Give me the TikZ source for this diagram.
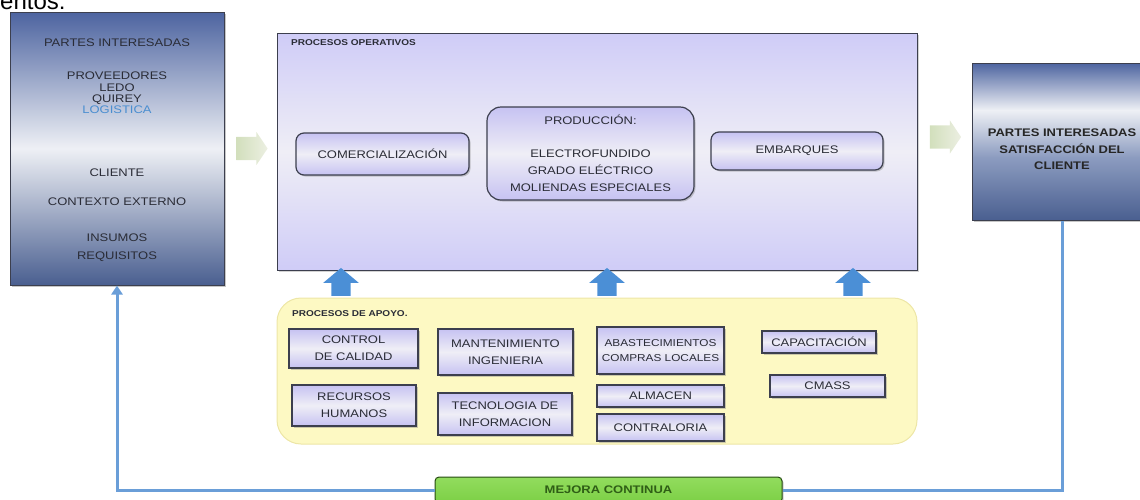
\documentclass[tikz,border=0pt]{standalone}
\usepackage{fontspec}
\setmainfont{Liberation Sans}[FakeStretch=1.18]
\newfontfamily\plainfont{Liberation Sans}
\usepackage{xcolor}
\usepackage{tikz}
\usetikzlibrary{shapes.arrows, shadows, arrows.meta}

\definecolor{azulpi}{HTML}{4D64A0}
\definecolor{azulpib}{HTML}{4A5F90}
\definecolor{azulclaro}{HTML}{EEF0F5}
\definecolor{azulmed}{HTML}{8C9CC0}
\definecolor{bordeosc}{HTML}{3C3F4E}
\definecolor{lila}{HTML}{CFCCF7}
\definecolor{lilaclaro}{HTML}{EFEEF6}
\definecolor{lilacaja}{HTML}{C6C2F2}
\definecolor{amarillo}{HTML}{FDF9C3}
\definecolor{amarilloborde}{HTML}{EDE6A6}
\definecolor{azulflecha}{HTML}{4B8FD6}
\definecolor{azullinea}{HTML}{6A9ED8}
\definecolor{logistica}{HTML}{4A8ED0}
\definecolor{textogris}{HTML}{2A2C36}
\definecolor{verde}{HTML}{7CCF45}
\definecolor{verdeclaro}{HTML}{92DC5E}
\definecolor{verdeosc}{HTML}{2F5E16}
\definecolor{grisverde}{HTML}{D2DFBC}
\definecolor{grisverdec}{HTML}{ECEFE2}

\pgfdeclareverticalshading{derecha}{100bp}{color(0bp)=(azulpib); color(25bp)=(azulpib); color(45bp)=(azulmed); color(60bp)=(azulclaro); color(75bp)=(azulpi); color(100bp)=(azulpi)}

\begin{document}
\begin{tikzpicture}[x=1pt, y=-1pt,
  interesadas/.style={rectangle, draw=bordeosc, line width=1pt, inner sep=0pt,
    drop shadow={shadow xshift=2pt, shadow yshift=-2pt, opacity=.45}},
  txt/.style={text=textogris, align=center, font=\fontsize{11}{11.3}\selectfont, inner sep=0pt},
  titulo/.style={text=textogris, font=\bfseries\fontsize{8.5}{9}\selectfont, inner sep=0pt, anchor=base west},
  proceso/.style={rectangle, rounded corners=8pt, draw=bordeosc, line width=1.2pt,
    top color=lilacaja, bottom color=lilacaja, middle color=lilaclaro,
    text=textogris, align=center, font=\fontsize{11}{17}\selectfont, inner sep=0pt,
    drop shadow={shadow xshift=1.5pt, shadow yshift=-1.5pt, opacity=.4}},
  apoyobox/.style={proceso, rounded corners=0pt, line width=1.5pt},
  flechaup/.style={single arrow, fill=azulflecha, shape border rotate=90, inner sep=9.5pt,
    minimum height=28pt, single arrow head extend=8pt, single arrow tip angle=100},
  flechagris/.style={single arrow, left color=grisverde, right color=grisverdec, inner sep=11.5pt,
    minimum height=30pt, single arrow head extend=5pt, single arrow tip angle=112},
  retro/.style={draw=azullinea, line width=3pt}
]
\useasboundingbox (0,0) rectangle (1140,499);
\clip (0,0) rectangle (1140,499);

% texto cortado arriba
\node [anchor=base west, inner sep=0pt, font=\plainfont\fontsize{24}{24}\selectfont] (corte) at (0,9) {entos:};

% partes interesadas (entrada)
\node [interesadas, minimum width=214pt, minimum height=273pt,
  top color=azulpi, bottom color=azulpib, middle color=azulclaro] (partesL) at (117,148.5) {};
\node [txt] (tPartes) at (117,43) {PARTES INTERESADAS};
\node [txt] (tProv) at (117,93) {PROVEEDORES\\LEDO\\QUIREY\\{\color{logistica}LOGISTICA}};
\node [txt] (tCliente) at (117,173) {CLIENTE};
\node [txt] (tContexto) at (117,202) {CONTEXTO EXTERNO};
\node [txt, font=\fontsize{11}{18}\selectfont] (tInsumos) at (117,247.5) {INSUMOS\\REQUISITOS};

% procesos operativos
\node [rectangle, draw=bordeosc, line width=1pt, minimum width=640pt, minimum height=237pt,
  top color=lila, bottom color=lila, middle color=lilaclaro,
  drop shadow={shadow xshift=2pt, shadow yshift=-2pt, opacity=.35}] (operativos) at (597,151.5) {};
\node [titulo] (tOper) at (291,45.5) {PROCESOS OPERATIVOS};
\node [proceso, minimum width=173pt, minimum height=42pt] (comerc) at (382.5,154) {COMERCIALIZACIÓN};
\node [proceso, rounded corners=14pt, minimum width=207pt, minimum height=93pt] (produccion) at (590.5,153.5)
  {PRODUCCIÓN:\\[16pt]ELECTROFUNDIDO\\GRADO ELÉCTRICO\\MOLIENDAS ESPECIALES};
\node [proceso, minimum width=172pt, minimum height=38pt] (embarques) at (797,151) {EMBARQUES};

% partes interesadas (salida)
\node [interesadas, minimum width=180pt, minimum height=157pt, shading=derecha] (partesR) at (1062,141.5) {};
\node [txt, font=\bfseries\fontsize{11}{16.5}\selectfont, text=black!85] (tSatis) at (1062,149.5)
  {PARTES INTERESADAS\\SATISFACCIÓN DEL\\CLIENTE};

% flechas grises
\node [flechagris] (fIzq) at (248,148.5) {};
\node [flechagris] (fDer) at (941.5,137) {};

% procesos de apoyo
\node [rectangle, rounded corners=24pt, draw=amarilloborde, fill=amarillo, line width=1pt,
  minimum width=640pt, minimum height=146pt] (apoyo) at (597,371) {};
\node [titulo] (tApoyo) at (292,316.5) {PROCESOS DE APOYO.};
\node [apoyobox, minimum width=129pt, minimum height=39pt] (calidad) at (353.5,348.5) {CONTROL\\DE CALIDAD};
\node [apoyobox, minimum width=124pt, minimum height=41pt] (recursos) at (354,405.5) {RECURSOS\\HUMANOS};
\node [apoyobox, minimum width=135pt, minimum height=46pt] (manten) at (505.5,352) {MANTENIMIENTO\\INGENIERIA};
\node [apoyobox, minimum width=134pt, minimum height=42pt] (tecno) at (505,414) {TECNOLOGIA DE\\INFORMACION};
\node [apoyobox, minimum width=127pt, minimum height=47pt, font=\fontsize{10}{15}\selectfont] (abaste) at (660.5,350.5)
  {ABASTECIMIENTOS\\COMPRAS LOCALES};
\node [apoyobox, minimum width=127pt, minimum height=22pt] (almacen) at (660.5,396) {ALMACEN};
\node [apoyobox, minimum width=127pt, minimum height=27pt] (contra) at (660.5,427.5) {CONTRALORIA};
\node [apoyobox, minimum width=114pt, minimum height=22pt] (capac) at (819,342) {CAPACITACIÓN};
\node [apoyobox, minimum width=115pt, minimum height=22pt] (cmass) at (827.5,386) {CMASS};

% flechas azules hacia arriba
\node [flechaup] (fUp1) at (341,286) {};
\node [flechaup] (fUp2) at (607,286) {};
\node [flechaup] (fUp3) at (853,286) {};

% mejora continua
\node [rectangle, rounded corners=4pt, draw=verdeosc!80!black, line width=1pt,
  top color=verdeclaro, bottom color=verde, minimum width=347pt, minimum height=26pt,
  text=verdeosc, font=\bfseries\fontsize{11}{12}\selectfont,
  drop shadow={shadow xshift=1.5pt, shadow yshift=-1.5pt, opacity=.4}] (mejora) at (608.5,490) {MEJORA CONTINUA};
\draw [retro] (partesR.south) |- (mejora.east);
\draw [retro, -{Triangle[length=9pt, width=11pt]}] (mejora.west) -| (partesL.south);
\end{tikzpicture}
\end{document}
